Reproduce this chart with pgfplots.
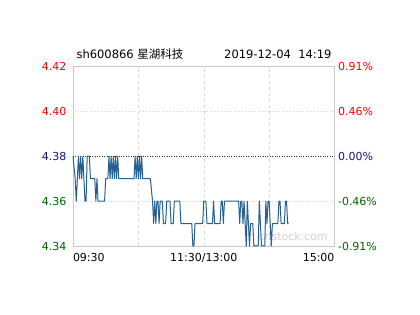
\documentclass[border=0pt]{standalone}
\usepackage{pgfplots}
\pgfplotsset{compat=1.18}
\usepackage{fontspec}
\setmainfont{DejaVu Sans}
\newfontfamily\cjk{Noto Sans CJK SC}
\definecolor{lineblue}{RGB}{36,96,145}
\definecolor{upred}{RGB}{255,0,0}
\definecolor{flatblue}{RGB}{20,20,130}
\definecolor{downgreen}{RGB}{0,100,0}
\definecolor{framegray}{RGB}{200,200,200}
\definecolor{gridgray}{RGB}{215,215,215}
\begin{document}
\begin{tikzpicture}
\path[use as bounding box] (0pt,0pt) rectangle (420pt,315pt);
\begin{axis}[
  at={(73pt,69pt)}, anchor=south west,
  scale only axis, width=261.5pt, height=179.5pt,
  xmin=0, xmax=240, ymin=4.34, ymax=4.42,
  axis line style={framegray},
  major tick length=0pt,
  xtick={0,120,240},
  xticklabels={\rlap{09:30}, 11:30/13:00, \llap{15:00}},
  ytick={4.34,4.36,4.38,4.40,4.42},
  yticklabels={\textcolor{downgreen}{4.34},\textcolor{downgreen}{4.36},\textcolor{flatblue}{4.38},\textcolor{upred}{4.40},\textcolor{upred}{4.42}},
  /pgf/number format/assume math mode=true,
  ticklabel style={font=\fontsize{11}{13}\selectfont},
  yticklabel style={xshift=-3pt},
  xticklabel style={yshift=-4pt},
  clip=false,
]
\draw[gridgray, dash pattern=on 3pt off 3pt] (axis cs:60,4.34) -- (axis cs:60,4.42);
\draw[gridgray, dash pattern=on 3pt off 3pt] (axis cs:120,4.34) -- (axis cs:120,4.42);
\draw[gridgray, dash pattern=on 3pt off 3pt] (axis cs:180,4.34) -- (axis cs:180,4.42);
\draw[gridgray, dotted] (axis cs:0,4.36) -- (axis cs:240,4.36);
\draw[gridgray, dotted] (axis cs:0,4.40) -- (axis cs:240,4.40);
\draw[black!80, dotted] (axis cs:0,4.38) -- (axis cs:240,4.38);
\node[text=black!18, font=\fontsize{11}{13}\selectfont] at (axis cs:202,4.3442) {cnstock.com};
\addplot[lineblue, line width=1pt, line join=round, mark=none] coordinates {
(0,4.38) (2,4.37) (3,4.36) (5,4.38) (6,4.37) (7,4.38) (8,4.37) (9,4.38) (10,4.37)
(11,4.36) (12,4.36) (13,4.38) (15,4.38) (16,4.37) (20,4.37) (21,4.36) (22,4.37)
(23,4.36) (29,4.36) (30,4.37) (32,4.37) (33,4.38) (34,4.37) (35,4.38) (36,4.37)
(37,4.38) (38,4.37) (39,4.38) (40,4.37) (41,4.38) (42,4.37) (56,4.37) (57,4.38)
(58,4.37) (59,4.38) (60,4.37) (61,4.38) (62,4.37) (63,4.38) (64,4.37) (71,4.37)
(73,4.36) (74,4.35) (75,4.36) (76,4.35) (77,4.36) (78,4.36) (79,4.35) (80,4.36)
(82,4.36) (83,4.35) (85,4.35) (86,4.36) (89,4.36) (90,4.35) (92,4.35) (93,4.36)
(98,4.36) (99,4.35) (109,4.35) (110,4.34) (111,4.34) (112,4.35) (119,4.35)
(120,4.36) (122,4.36) (123,4.35) (128,4.35) (129,4.36) (130,4.35) (135,4.35)
(136,4.36) (137,4.36) (138,4.35) (139,4.36) (152,4.36) (153,4.35) (154,4.36)
(155,4.36) (156,4.35) (157,4.36) (158,4.35) (159,4.34) (160,4.36) (161,4.35)
(162,4.34) (163,4.35) (165,4.35) (166,4.34) (170,4.34) (171,4.36) (172,4.35)
(173,4.34) (176,4.34) (177,4.36) (178,4.35) (179,4.36) (180,4.36) (181,4.35)
(182,4.34) (183,4.35) (188,4.35) (189,4.36) (190,4.36) (191,4.35) (194,4.35)
(195,4.36) (196,4.36) (197,4.35) (198,4.35)
};
\end{axis}
\begin{axis}[
  at={(73pt,69pt)}, anchor=south west,
  scale only axis, width=261.5pt, height=179.5pt,
  xmin=0, xmax=240, ymin=4.34, ymax=4.42,
  hide x axis,
  axis y line*=right,
  axis line style={framegray},
  major tick length=0pt,
  ytick={4.34,4.36,4.38,4.40,4.42},
  yticklabels={\textcolor{downgreen}{-0.91\%},\textcolor{downgreen}{-0.46\%},\textcolor{flatblue}{0.00\%},\textcolor{upred}{0.46\%},\textcolor{upred}{0.91\%}},
  /pgf/number format/assume math mode=true,
  ticklabel style={font=\fontsize{11}{13}\selectfont},
]
\addplot[draw=none] coordinates {(0,4.38)};
\end{axis}
\node[anchor=base west, font=\fontsize{11.5}{13}\selectfont] at (73pt,256pt) {sh600866 {\cjk 星湖科技}};
\node[anchor=base east, font=\fontsize{11.5}{13}\selectfont] at (335pt,256pt) {2019-12-04\ \ 14:19};
\end{tikzpicture}
\end{document}
